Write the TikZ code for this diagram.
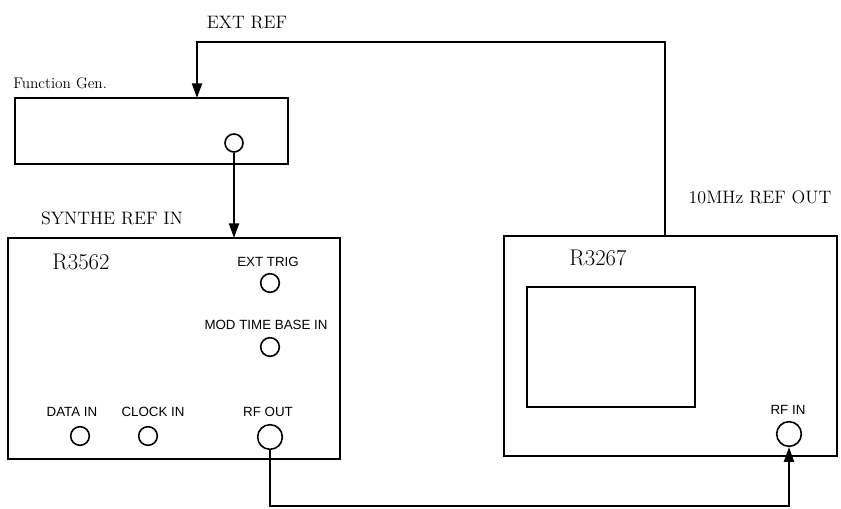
\documentclass[tikz,border=0pt]{standalone}
\usepackage{fontspec}
\newfontfamily\sansf{Liberation Sans}
\usetikzlibrary{arrows.meta}
\tikzset{
  box/.style={draw, line width=1.5pt, inner sep=0pt},
  port/.style={draw, circle, line width=1.2pt, inner sep=0pt, minimum size=14pt},
  bigport/.style={port, minimum size=18.5pt},
  serif/.style={font=\fontsize{13.5}{15}\selectfont, inner sep=0pt},
  model/.style={font=\fontsize{17}{19}\selectfont, inner sep=0pt},
  sans/.style={font=\sansf\fontsize{10}{12}\selectfont, inner sep=0pt},
  conn/.style={line width=1.5pt},
  arr/.style={conn, -{Triangle[length=11pt, width=7.5pt]}}
}
\begin{document}
\begin{tikzpicture}[x=0.75pt, y=-0.75pt]
\useasboundingbox (0,0) rectangle (841,509);

% Function generator
\node[box, minimum width=204.75pt, minimum height=49.5pt] (fg) at (151.5,131) {};
\node[port, minimum size=13.5pt] (fgout) at (234,143) {};
\node[inner sep=0pt, anchor=west, font=\fontsize{11.5}{13}\selectfont] (fglbl) at (13,83) {Function Gen.};
\coordinate (fgin) at (197,98);

% R3562
\node[box, minimum width=249pt, minimum height=165.75pt] (syn) at (174,348.5) {};
\node[serif] (synlbl) at (112,218) {SYNTHE REF IN};
\node[model] (synname) at (81,262) {R3562};
\node[sans] (exttriglbl) at (268,262) {EXT TRIG};
\node[port] (exttrig) at (270,283) {};
\node[sans] (modlbl) at (266,325) {MOD TIME BASE IN};
\node[port] (mod) at (270,347) {};
\node[sans] (datalbl) at (72,412) {DATA IN};
\node[port] (data) at (80,436) {};
\node[sans] (clklbl) at (153,412) {CLOCK IN};
\node[port] (clk) at (148,436) {};
\node[sans] (rfoutlbl) at (268,412) {RF OUT};
\node[bigport] (rfout) at (270,437) {};
\coordinate (synin) at (234,238);

% R3267
\node[box, minimum width=249.75pt, minimum height=165pt] (sa) at (670.5,346) {};
\node[box, minimum width=126pt, minimum height=90pt] (screen) at (611,347) {};
\node[model] (saname) at (598,258) {R3267};
\node[serif] (reflbl) at (760,197) {10MHz REF OUT};
\node[sans] (rfinlbl) at (788,410) {RF IN};
\node[bigport] (rfin) at (789,434) {};
\coordinate (refout) at (665,236);

% EXT REF
\node[serif] (extreflbl) at (247,23) {EXT REF};
\coordinate (top) at (0,42);
\coordinate (bot) at (0,506);

% connectors
\draw[arr] (refout) -- (refout |- top) -| (fgin);
\draw[arr] (fgout.south) -- (synin);
\draw[arr] (rfout.south) -- (rfout.south |- bot) -| (rfin.south);
\end{tikzpicture}
\end{document}
